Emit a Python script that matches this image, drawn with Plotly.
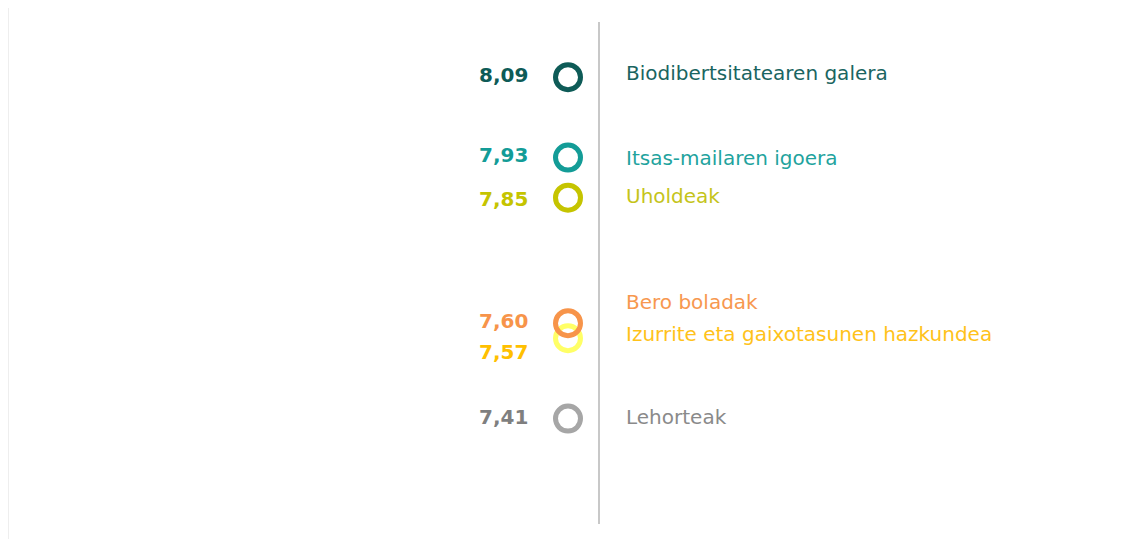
import plotly.graph_objects as go

categories = ["Biodibertsitatearen galera", "Itsas-mailaren igoera", "Uholdeak",
              "Bero boladak", "Izurrite eta gaixotasunen hazkundea", "Lehorteak"]
values = [8.09, 7.93, 7.85, 7.60, 7.57, 7.41]
value_labels = ["8,09", "7,93", "7,85", "7,60", "7,57", "7,41"]
marker_colors = ["#0e5b57", "#139c97", "#c5c400", "#f7944a", "#ffff66", "#a6a6a6"]
text_colors = ["#1a6561", "#1fa39e", "#c5c41a", "#f7984f", "#ffc21a", "#8a8a8a"]
value_colors = ["#0e5b57", "#139c97", "#c5c400", "#f7944a", "#ffc000", "#7f7f7f"]
# pixel nudges for overlapping labels (value label, category label)
value_shift = [2, 3, -1, 2, -14, 2]
cat_shift = [4, 0, 2, 21, 4, 2]

FONT = "'DejaVu Sans', sans-serif"

fig = go.Figure()
order = [5, 4, 3, 2, 1, 0]
for i in order:
    fig.add_trace(go.Scatter(
        x=[0], y=[values[i]], mode="markers",
        marker=dict(size=25, color="rgba(0,0,0,0)",
                    line=dict(color=marker_colors[i], width=5)),
        hoverinfo="text", text=[f"{categories[i]}: {value_labels[i]}"],
        showlegend=False))

for i in range(len(values)):
    fig.add_annotation(x=0, y=values[i], text=f"<b>{value_labels[i]}</b>",
                       xanchor="right", yanchor="middle", xshift=-38, yshift=value_shift[i],
                       showarrow=False, font=dict(family=FONT, size=20, color=value_colors[i]))
    fig.add_annotation(x=0, y=values[i], text=categories[i],
                       xanchor="left", yanchor="middle", xshift=56, yshift=cat_shift[i],
                       showarrow=False, font=dict(family=FONT, size=20, color=text_colors[i]))

# central divider line
fig.add_shape(type="line", xref="x", yref="paper", x0=31, x1=31, y0=0, y1=1,
              line=dict(color="#c8c8c8", width=2))
# faint left panel edge
fig.add_shape(type="line", xref="x", yref="paper", x0=-559.5, x1=-559.5, y0=-0.04, y1=1.03,
              line=dict(color="#eeeeee", width=1))

fig.update_layout(
    width=1134, height=531,
    margin=dict(l=0, r=0, t=14, b=15),
    paper_bgcolor="white", plot_bgcolor="white",
    xaxis=dict(range=[-560, 574], visible=False, fixedrange=True),
    yaxis=dict(range=[7.2, 8.2], visible=False, fixedrange=True),
    showlegend=False,
)
fig.write_html("out.html")
